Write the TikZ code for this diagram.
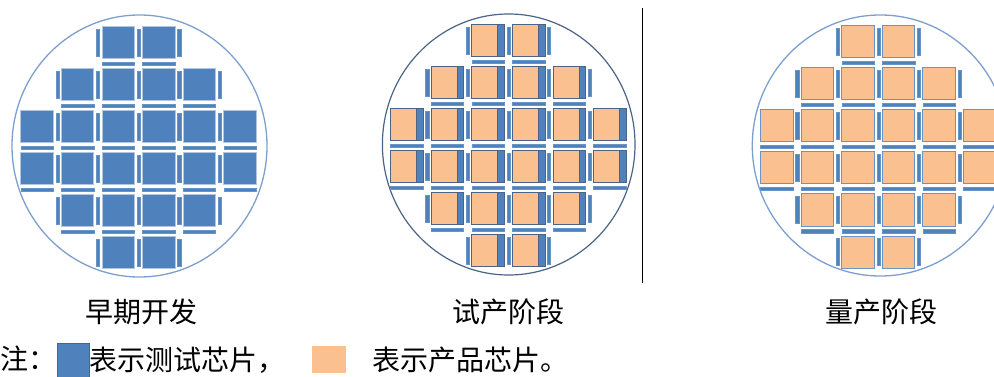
\documentclass[tikz,border=0pt]{standalone}
\usepackage{fontspec}
\newfontfamily\cjk{Noto Sans CJK SC}
\usepackage{tikz}
\usetikzlibrary{positioning}
\usetikzlibrary{calc}

\definecolor{chipblue}{HTML}{4F81BD}
\definecolor{chiporange}{HTML}{FAC090}
\definecolor{waferedge}{HTML}{7C9FCE}
\definecolor{pilotedge}{HTML}{4B6386}

\def\pitchx{40.6}
\def\pitchy{42}
\def\chipw{32.5}
\def\chiph{32}

\tikzset{
  barbox/.style={fill=chipblue, draw=chipblue!85!white, line width=0.4pt},
  stripbox/.style={fill=chipblue, draw=pilotedge, line width=0.6pt},
  nostrip/.style={draw=none},
  testdie/.style={fill=chipblue, draw=chipblue!45!white, line width=0.8pt},
  proddie/.style={fill=chiporange, draw=chipblue!85!white, line width=1pt},
  pilotdie/.style={fill=chiporange, draw=pilotedge, line width=0.8pt},
  stage/.style={font=\cjk\fontsize{28}{30}\selectfont, inner sep=0pt},
  legendtext/.style={font=\cjk\fontsize{28}{30}\selectfont, inner sep=0pt, anchor=west},
}

% dies and scribe bars of one wafer: origin x, origin y, die style, strip style
\newcommand{\waferdies}[4]{%
  \foreach \r/\a/\b in {1/3/4,2/2/5,3/1/6,4/1/6,5/2/5,6/3/4} {
    \foreach \c in {\a,...,\b} {
      \coordinate (die) at ({#1+(\c-1)*\pitchx},{#2+(\r-1)*\pitchy});
      \draw[#3] (die) rectangle ++(\chipw,\chiph);
      \draw[#4] ($(die)+(\chipw-6.5,0)$) rectangle ++(6.5,\chiph);
    }
  }
  % bars under the dies
  \foreach \r/\a/\b in {1/3/4,2/2/5,3/1/6,4/1/6,5/2/5} {
    \foreach \c in {\a,...,\b} {
      \coordinate (hbar) at ({#1+(\c-1)*\pitchx},{#2+(\r-1)*\pitchy+\chiph+3.5});
      \draw[barbox] (hbar) rectangle ++(\chipw,3.2);
    }
  }
  % bars between the dies
  \foreach \r/\a/\b in {1/3/5,2/2/6,3/2/6,4/2/6,5/2/6,6/3/5} {
    \foreach \c in {\a,...,\b} {
      \coordinate (vbar) at ({#1+(\c-1)*\pitchx-5.6},{#2+(\r-1)*\pitchy+2.5});
      \draw[barbox] (vbar) rectangle ++(3.2,27);
    }
  }%
}

\begin{document}
\begin{tikzpicture}[x=1pt, y=-1pt]
\clip (0,0) rectangle (994,377);

% wafers
\draw[waferedge, line width=1.3pt] (139.5,146) ellipse [x radius=127.5pt, y radius=131pt];
\draw[pilotedge, line width=1.2pt] (508.7,144.5) ellipse [x radius=126.3pt, y radius=130.5pt];
\draw[waferedge, line width=1.3pt] (880.3,145.5) ellipse [x radius=128pt, y radius=130.5pt];

\waferdies{20.7}{26.7}{testdie}{nostrip}
\waferdies{390.5}{24.5}{pilotdie}{stripbox}
\waferdies{760.5}{26}{proddie}{nostrip}

\coordinate (divTop) at (642.5,8);
\coordinate (divBot) at (642.5,283);
\draw[line width=1.2pt] (divTop) -- (divBot);

% stage names
\node[stage] (early) at (141,311.5) {早期开发};
\node[stage] (pilot) at (508,311.5) {试产阶段};
\node[stage] (mass) at (881,311.5) {量产阶段};

% legend
\node[legendtext] (note) at (0.5,359) {注：};
\node[fill=chipblue, draw=chipblue!80!black, line width=0.6pt, minimum width=32pt, minimum height=34pt, inner sep=0pt] (keyTest) at (73,359.8) {};
\node[legendtext] (testText) at (keyTest.east) {表示测试芯片，};
\node[fill=chiporange, minimum width=34pt, minimum height=27pt, inner sep=0pt] (keyProd) at (328.7,359.7) {};
\node[legendtext, right=26pt of keyProd] (prodText) {表示产品芯片。};
\end{tikzpicture}
\end{document}
